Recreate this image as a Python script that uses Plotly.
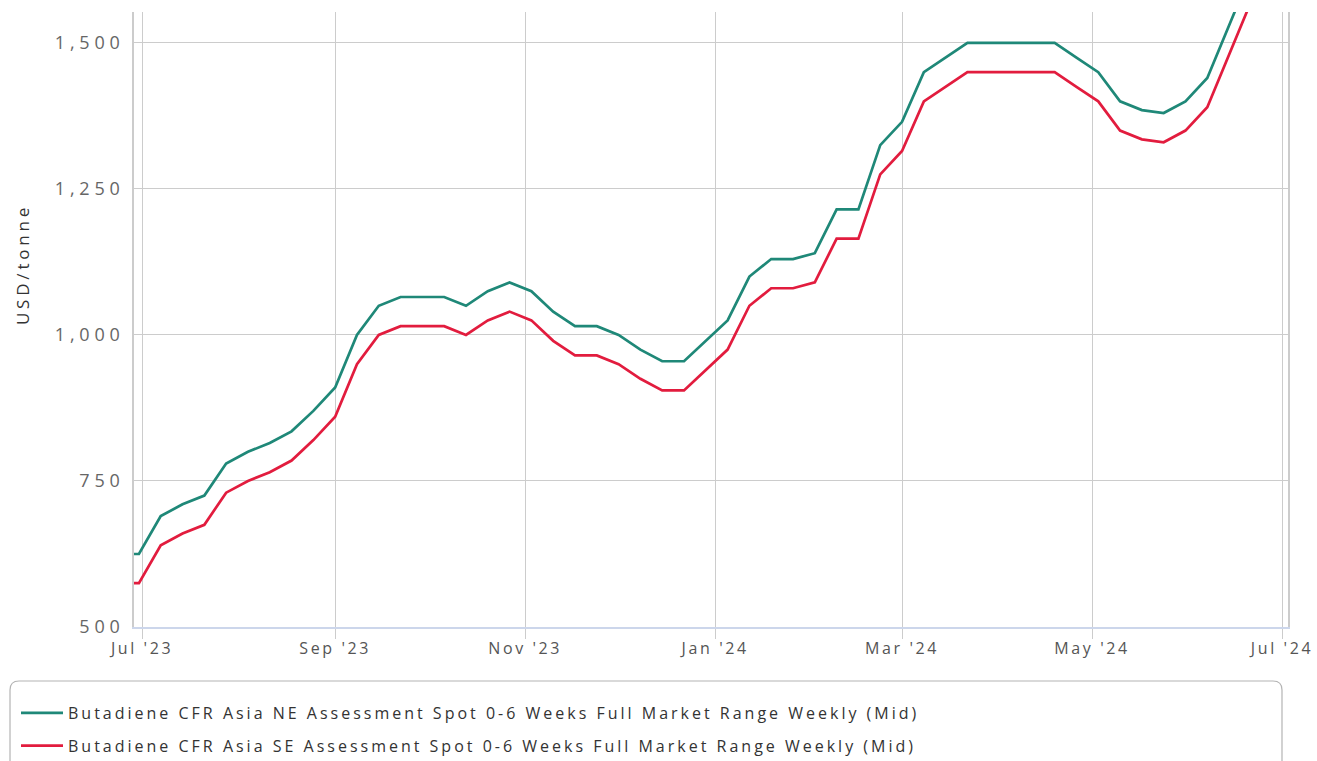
import plotly.graph_objects as go
import pandas as pd

# Weekly dates (Fridays)
dates = pd.date_range("2023-06-23", periods=53, freq="7D")

ne_values = [625, 625, 690, 710, 725, 780, 800, 815, 835, 870, 910,
             1000, 1050, 1065, 1065, 1065, 1050, 1075, 1090, 1075, 1040,
             1015, 1015, 1000, 975, 955, 955, 990, 1025, 1100, 1130,
             1130, 1140, 1215, 1215, 1325, 1365, 1450, 1475, 1500, 1500,
             1500, 1500, 1500, 1475, 1450, 1400, 1385, 1380, 1400, 1440,
             1530, 1620]
se_values = [575, 575, 640, 660, 675, 730, 750, 765, 785, 820, 860,
             950, 1000, 1015, 1015, 1015, 1000, 1025, 1040, 1025, 990,
             965, 965, 950, 925, 905, 905, 940, 975, 1050, 1080,
             1080, 1090, 1165, 1165, 1275, 1315, 1400, 1425, 1450, 1450,
             1450, 1450, 1450, 1425, 1400, 1350, 1335, 1330, 1350, 1390,
             1480, 1570]

series_names = [
    "Butadiene CFR Asia NE Assessment Spot 0-6 Weeks Full Market Range Weekly (Mid)",
    "Butadiene CFR Asia SE Assessment Spot 0-6 Weeks Full Market Range Weekly (Mid)",
]
y_ticks = [500, 750, 1000, 1250, 1500]
y_title = "USD/tonne"

W, H = 1317, 761
# plot area in page pixels
L, R, T, B = 134, 1288, 12, 627

fig = go.Figure()
fig.add_trace(go.Scatter(x=dates, y=ne_values, mode="lines", name=series_names[0],
                         legendgroup="ne",
                         line=dict(color="#1f8878", width=2.7)))
fig.add_trace(go.Scatter(x=dates, y=se_values, mode="lines", name=series_names[1],
                         legendgroup="se",
                         line=dict(color="#e21c3e", width=2.7)))

def px2paper(px, py):
    return (px - L) / (R - L), (B - py) / (B - T)

# rounded legend box
bx0, by0, bx1, by1, rad = 10, 681, 1282, 790, 9
def P(px, py):
    x, y = px2paper(px, py)
    return f"{x:.5f},{y:.5f}"
path = (f"M {P(bx0+rad, by0)} L {P(bx1-rad, by0)} Q {P(bx1, by0)} {P(bx1, by0+rad)} "
        f"L {P(bx1, by1-rad)} Q {P(bx1, by1)} {P(bx1-rad, by1)} "
        f"L {P(bx0+rad, by1)} Q {P(bx0, by1)} {P(bx0, by1-rad)} "
        f"L {P(bx0, by0+rad)} Q {P(bx0, by0)} {P(bx0+rad, by0)} Z")

lx, ly = px2paper(16, 696)
tx, ty = px2paper(22, 265)

fig.update_layout(
    width=W, height=H,
    margin=dict(l=L, r=W - R, t=T, b=H - B, autoexpand=False),
    plot_bgcolor="white", paper_bgcolor="white",
    font=dict(family="Open Sans, sans-serif", color="#555555"),
    showlegend=True,
    legend=dict(x=lx, y=ly, xanchor="left", yanchor="top",
                bgcolor="rgba(0,0,0,0)", font=dict(size=16, color="#333333"),
                itemwidth=42, tracegroupgap=9),
    shapes=[dict(type="path", xref="paper", yref="paper", path=path,
                 line=dict(color="#b4b4b4", width=1.2), fillcolor="rgba(0,0,0,0)", layer="below")],
    annotations=[dict(text=y_title, x=tx, y=ty, xref="paper", yref="paper",
                      textangle=-90, showarrow=False, xanchor="center", yanchor="middle",
                      font=dict(size=17, color="#333333"))],
)
fig.update_xaxes(
    range=[pd.Timestamp("2023-06-28 10:00"), pd.Timestamp("2024-07-02 22:00")],
    tick0="2023-07-01", dtick="M2", tickformat="%b '%y",
    showgrid=True, gridcolor="#cccccc", gridwidth=1.3,
    showline=True, linecolor="#ccd6eb", linewidth=1.5,
    ticks="outside", ticklen=10, tickcolor="#cccccc", tickwidth=1.3,
    tickfont=dict(size=16, color="#555555"), zeroline=False,
    ticklabelstandoff=-4,
)
fig.update_yaxes(
    range=[500, 1553], tickvals=y_ticks, tickformat=",d",
    showgrid=True, gridcolor="#cccccc", gridwidth=1.3,
    showline=True, linecolor="#cccccc", linewidth=1.5, mirror=True,
    ticks="", tickfont=dict(size=18, color="#666666"), zeroline=False,
    ticklabelstandoff=4,
)

post = """
document.body.style.margin = '0';
document.body.style.padding = '0';
document.documentElement.style.overflow = 'hidden';
document.body.style.overflow = 'hidden';
var gd = document.getElementById('{plot_id}');
function spacing() {
  gd.querySelectorAll('g.xtick text').forEach(function(t){ t.style.letterSpacing = '2.6px'; });
  gd.querySelectorAll('g.ytick text').forEach(function(t){ t.style.letterSpacing = '4.8px'; });
  gd.querySelectorAll('text.legendtext').forEach(function(t){ t.style.letterSpacing = '3.0px'; });
  gd.querySelectorAll('text.annotation-text').forEach(function(t){ t.style.letterSpacing = '3.8px'; });
  gd.querySelectorAll('g.legend [clip-path]').forEach(function(e){ e.removeAttribute('clip-path'); });
}
spacing();
gd.on('plotly_afterplot', spacing);
setTimeout(spacing, 50);
setTimeout(spacing, 300);
"""

fig.write_html("out.html", post_script=post, config={"displayModeBar": False})
